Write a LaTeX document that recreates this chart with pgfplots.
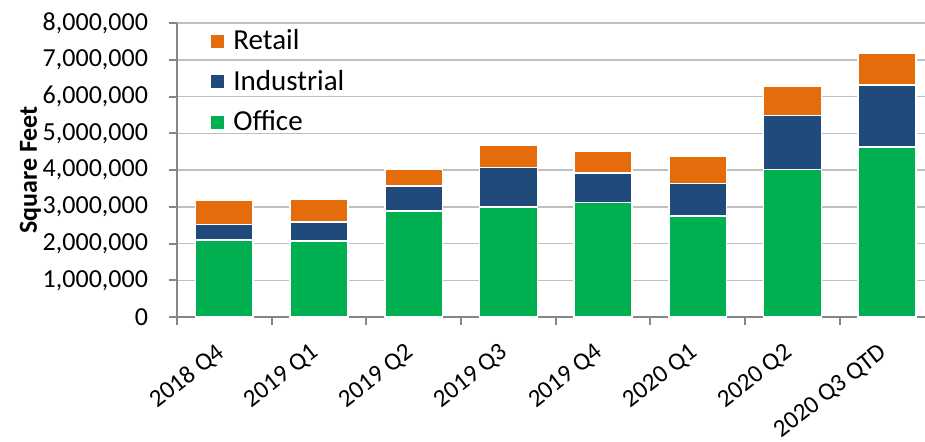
\documentclass[border=0pt]{standalone}
\usepackage{fontspec}
\setmainfont{Carlito}
\usepackage{pgfplots}
\pgfplotsset{compat=1.18}
\definecolor{office}{HTML}{00B050}
\definecolor{industrial}{HTML}{214A7C}
\definecolor{retail}{HTML}{E46C0A}
\definecolor{gridc}{HTML}{BFBFBF}
\definecolor{axisc}{HTML}{868686}
\begin{document}
\begin{tikzpicture}
\useasboundingbox (-88.5pt,-62pt) rectangle (374pt,158.5pt);
\begin{axis}[
  at={(0pt,0pt)}, anchor=south west,
  scale only axis, width=374pt, height=147pt,
  clip=false,
  ybar stacked, bar width=0.61,
  xmin=-0.5, xmax=7.4, ymin=0, ymax=8000000,
  axis x line*=bottom, axis y line*=left,
  axis line style={draw=axisc,line width=1pt,-},
  xtick={0,...,7},
  xticklabels={2018 Q4,2019 Q1,2019 Q2,2019 Q3,2019 Q4,2020 Q1,2020 Q2,2020 Q3 QTD},
  major x tick style={draw=none},
  minor xtick={-0.5,0.5,...,6.5},
  minor x tick style={draw=axisc,line width=1pt},
  minor tick length=4pt,
  ytick={0,1000000,...,8000000},
  major tick length=4pt,
  tick align=outside,
  y tick style={draw=axisc,line width=1pt},
  scaled y ticks=false,
  ticklabel style={font=\fontsize{13}{15}\selectfont,text=black},
  yticklabel style={/pgf/number format/fixed,/pgf/number format/precision=0,
    /pgf/number format/1000 sep={,},/pgf/number format/assume math mode=true,xshift=-7pt},
  x tick label style={font=\fontsize{12.5}{15}\selectfont,yshift=-7pt,xshift=-4.5pt,rotate=38,anchor=north east,inner sep=1pt},
  ymajorgrids, major grid style={draw=gridc,line width=0.75pt},
  ylabel={Square Feet},
  ylabel shift=-6pt,
  ylabel style={font=\fontsize{13}{15}\selectfont\bfseries},
  reverse legend,
  legend style={at={(rel axis cs:0.043,0.99)},anchor=north west,draw=none,fill=none,
    font=\fontsize{14.5}{17}\selectfont,row sep=5.75pt,column sep=3pt,inner sep=0pt,
    nodes={inner sep=1.5pt}},
  legend cell align=left,
  legend image code/.code={\draw[#1,line width=0.4pt] (0pt,-3.5pt) rectangle (7pt,3.5pt);},
  every axis plot/.append style={draw=white,line width=0.75pt},
]
\addplot[fill=office] coordinates {(0,2090000)(1,2070000)(2,2890000)(3,3000000)(4,3120000)(5,2750000)(6,4010000)(7,4630000)};
\addlegendentry{Office}
\addplot[fill=industrial] coordinates {(0,430000)(1,510000)(2,670000)(3,1070000)(4,800000)(5,880000)(6,1470000)(7,1690000)};
\addlegendentry{Industrial}
\addplot[fill=retail] coordinates {(0,650000)(1,630000)(2,460000)(3,600000)(4,580000)(5,745000)(6,810000)(7,860000)};
\addlegendentry{Retail}
\draw[axisc,line width=1pt] (rel axis cs:0,0) -- (rel axis cs:1,0);
\end{axis}
\end{tikzpicture}
\end{document}
